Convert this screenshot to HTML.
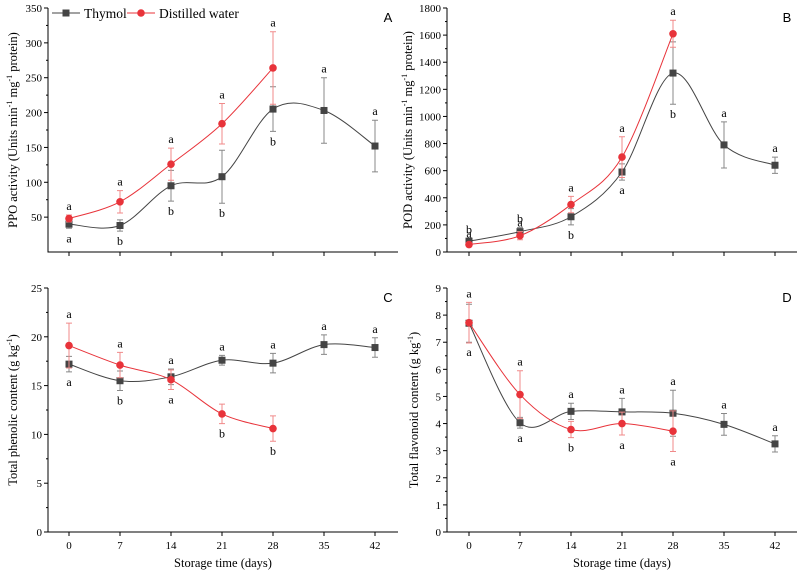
<!DOCTYPE html>
<html><head><meta charset="utf-8"><style>
body{margin:0;background:#fff}
svg text{font-family:"Liberation Serif",serif}
</style></head><body>
<svg id="s" width="799" height="572" xmlns="http://www.w3.org/2000/svg"></svg>
<script>
const days=[0,7,14,21,28,35,42];
const aThy=[40,38,95,108,205,203,152], aThyE=[6,8,22,38,32,47,37];
const aDW=[48,72,126,184,264], aDWE=[5,16,23,29,52];
const aThyL=['a','b','b','b','b','a','a'], aThyP=[-1,-1,-1,-1,-1,1,1];
const aDWL=['a','a','a','a','a'], aDWP=[1,1,1,1,1];
const bThy=[80,150,260,590,1320,790,640], bThyE=[20,30,60,60,230,170,60];
const bDW=[55,120,350,700,1610], bDWE=[15,30,60,150,100];
const bThyL=['b','b','b','a','b','a','a'], bThyP=[1,1,-1,-1,-1,1,1];
const bDWL=['a','a','a','a','a'], bDWP=[1,1,1,1,1];
const cThy=[17.2,15.5,15.9,17.6,17.3,19.2,18.9], cThyE=[0.8,1,0.8,0.5,1,1,1];
const cDW=[19.1,17.1,15.6,12.1,10.6], cDWE=[2.3,1.3,1,1,1.3];
const cThyL=['a','b','a','a','a','a','a'], cThyP=[-1,-1,1,1,1,1,1];
const cDWL=['a','a','a','b','b'], cDWP=[1,1,-1,-1,-1];
const dThy=[7.7,4.03,4.45,4.43,4.38,3.97,3.25], dThyE=[0.7,0.2,0.3,0.5,0.85,0.4,0.3];
const dDW=[7.72,5.07,3.78,4.0,3.72], dDWE=[0.75,0.88,0.3,0.42,0.75];
const dThyL=['a','a','a','a','a','a','a'], dThyP=[-1,-1,1,1,1,1,1];
const dDWL=['a','a','b','a','a'], dDWP=[1,1,-1,-1,-1];
const xTicks=[0,7,14,21,28,35,42];
const aTicks=[50,100,150,200,250,300,350];
const bTicks=[0,200,400,600,800,1000,1200,1400,1600,1800];
const cTicks=[0,5,10,15,20,25];
const dTicks=[0,1,2,3,4,5,6,7,8,9];

const S=document.getElementById('s');const NS='http://www.w3.org/2000/svg';
function mk(t,a,p){const e=document.createElementNS(NS,t);for(const k in a)e.setAttribute(k,a[k]);(p||S).appendChild(e);return e;}
function txt(x,y,s,a,p){const e=mk('text',Object.assign({x:x,y:y},a),p);e.textContent=s;return e;}
function spline(pts){let d='M'+pts[0][0]+','+pts[0][1];for(let i=0;i<pts.length-1;i++){const p0=pts[i-1]||pts[i],p1=pts[i],p2=pts[i+1],p3=pts[i+2]||p2;
d+=' C'+(p1[0]+(p2[0]-p0[0])/6)+','+(p1[1]+(p2[1]-p0[1])/6)+' '+(p2[0]-(p3[0]-p1[0])/6)+','+(p2[1]-(p3[1]-p1[1])/6)+' '+p2[0]+','+p2[1];}return d;}

function panel(o){
 const g=mk('g',{});
 const X=d=>o.x0+(d-0)/42*(o.x1-o.x0);
 const Y=v=>o.yb-(v-o.ymin)/(o.ymax-o.ymin)*(o.yb-o.yt);
 const ax=mk('path',{d:`M${o.ax},${o.yt} V${o.yb} H${o.axr}`,stroke:'#000',fill:'none','stroke-width':1},g);
 
 o.ticks.forEach(t=>{mk('line',{x1:o.ax-4,x2:o.ax,y1:Y(t),y2:Y(t),stroke:'#000'},g);
  const l=txt(o.ax-6,Y(t)+4,t,{'font-size':11,'text-anchor':'end'},g);});
 for(let i=0;i<o.ticks.length-1;i++){const m=(o.ticks[i]+o.ticks[i+1])/2;mk('line',{x1:o.ax-2,x2:o.ax,y1:Y(m),y2:Y(m),stroke:'#000'},g);}
 xTicks.forEach(t=>{mk('line',{x1:X(t),x2:X(t),y1:o.yb,y2:o.yb+4,stroke:'#000'},g);
  if(o.xl){const l=txt(X(t),o.yb+17,t,{'font-size':11,'text-anchor':'middle'},g);}});
 const yl=txt(0,0,'',{'font-size':12.5,'text-anchor':'middle',transform:`translate(${o.ylx},${(o.yt+o.yb)/2}) rotate(-90)`},g);
 yl.innerHTML=o.ylab;
 if(o.xl){const xt=txt((o.ax+o.axr)/2,o.yb+35,'Storage time (days)',{'font-size':12.5,'text-anchor':'middle'},g);}
 const pl=txt(o.axr-10,o.yt+14,o.id,{'font-size':13,'text-anchor':'middle',style:'font-family:"Liberation Sans",sans-serif'},g);
 [[o.thy,o.thyE,'#444','sq',o.thyL,o.thyP,'thymol'],[o.dw,o.dwE,'#e8333a','ci',o.dwL,o.dwP,'distilled-water']].forEach(([v,e,c,sh,L,P,nm])=>{
  const pts=v.map((y,i)=>[X(days[i]),Y(y)]);
  const ln=mk('path',{d:spline(pts),stroke:c,fill:'none','stroke-width':1},g);
  v.forEach((y,i)=>{const x=X(days[i]),ec=sh=='sq'?'#888':'#f08a8a';
   mk('path',{d:`M${x},${Y(y+e[i])}V${Y(y-e[i])}M${x-3},${Y(y+e[i])}h6M${x-3},${Y(y-e[i])}h6`,stroke:ec,'stroke-width':1,fill:'none'},g);
   let m;if(sh=='sq')m=mk('rect',{x:x-3.5,y:Y(y)-3.5,width:7,height:7,fill:c},g);else m=mk('circle',{cx:x,cy:Y(y),r:3.8,fill:c},g);
   
   const ly=P[i]>0?Y(y+e[i])-5:Y(y-e[i])+14;
   const lt=txt(x,ly,L[i],{'font-size':12,'text-anchor':'middle'},g);});
 });
}
const unit1='(Units min<tspan dy="-5" font-size="8">-1</tspan><tspan dy="5"> mg</tspan><tspan dy="-5" font-size="8">-1</tspan><tspan dy="5"> protein)</tspan>';
panel({id:'A',ax:48,axr:398,x0:69,x1:375,yt:8,yb:252,ymin:0,ymax:350,ticks:aTicks,thy:aThy,thyE:aThyE,dw:aDW,dwE:aDWE,thyL:aThyL,thyP:aThyP,dwL:aDWL,dwP:aDWP,ylx:17,ylab:'PPO activity '+unit1,xl:false});
panel({id:'B',ax:447,axr:797,x0:469,x1:775,yt:8,yb:252,ymin:0,ymax:1800,ticks:bTicks,thy:bThy,thyE:bThyE,dw:bDW,dwE:bDWE,thyL:bThyL,thyP:bThyP,dwL:bDWL,dwP:bDWP,ylx:412,ylab:'POD activity  '+unit1,xl:false});
panel({id:'C',ax:48,axr:398,x0:69,x1:375,yt:288,yb:532,ymin:0,ymax:25,ticks:cTicks,thy:cThy,thyE:cThyE,dw:cDW,dwE:cDWE,thyL:cThyL,thyP:cThyP,dwL:cDWL,dwP:cDWP,ylx:17,ylab:'Total phenolic content (g kg<tspan dy="-5" font-size="8">-1</tspan><tspan dy="5">)</tspan>',xl:true});
panel({id:'D',ax:447,axr:797,x0:469,x1:775,yt:288,yb:532,ymin:0,ymax:9,ticks:dTicks,thy:dThy,thyE:dThyE,dw:dDW,dwE:dDWE,thyL:dThyL,thyP:dThyP,dwL:dDWL,dwP:dDWP,ylx:418,ylab:'Total flavonoid content (g kg<tspan dy="-5" font-size="8">-1</tspan><tspan dy="5">)</tspan>',xl:true});
const lg=mk('g',{});
mk('line',{x1:52,x2:80,y1:13,y2:13,stroke:'#444'},lg);mk('rect',{x:62.5,y:9.5,width:7,height:7,fill:'#444'},lg);
const t1=txt(84,18,'Thymol',{'font-size':13.5},lg);
mk('line',{x1:127,x2:155,y1:13,y2:13,stroke:'#e8333a'},lg);mk('circle',{cx:141,cy:13,r:3.8,fill:'#e8333a'},lg);
const t2=txt(159,18,'Distilled water',{'font-size':13.5},lg);
</script>
</body></html>
